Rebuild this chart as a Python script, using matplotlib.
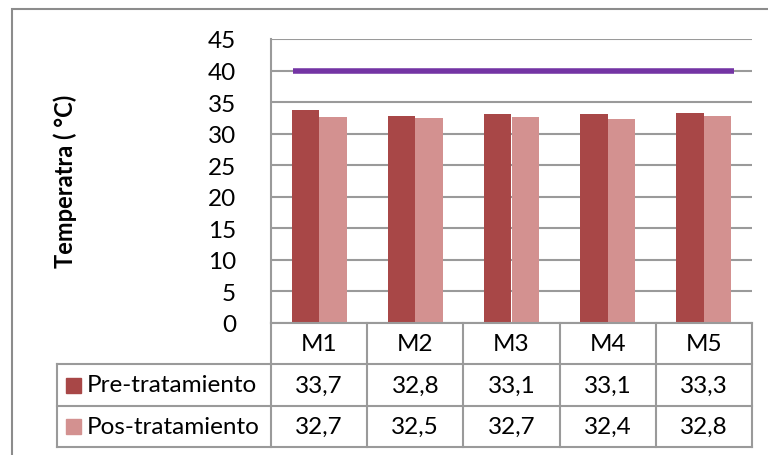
import numpy as np
import matplotlib.pyplot as plt
from matplotlib.patches import Rectangle

categories = ["M1", "M2", "M3", "M4", "M5"]
pre = [33.7, 32.8, 33.1, 33.1, 33.3]
pos = [32.7, 32.5, 32.7, 32.4, 32.8]
series_names = ["Pre-tratamiento", "Pos-tratamiento"]
limit = 40
yticks = [0, 5, 10, 15, 20, 25, 30, 35, 40, 45]

c_pre = "#A84747"
c_pos = "#D39190"
c_line = "#7434A4"
c_grid = "#9A9A9A"

plt.rcParams['font.family'] = ['Lato', 'DejaVu Sans']
fs = 17.5

W, H = 768, 456
fig = plt.figure(figsize=(W / 100, H / 100), dpi=100)

# outer chart border (runs past the image on right/bottom)
fig.patches.append(Rectangle((12 / W, -0.1), 2, 1 - 10 / H + 0.1, transform=fig.transFigure,
                             fill=False, edgecolor="#8C8C8C", lw=1.5))

ax_l, ax_r, ax_t, ax_b = 271 / W, 752 / W, 1 - 40 / H, 1 - 324 / H
ax = fig.add_axes([ax_l, ax_b, ax_r - ax_l, ax_t - ax_b])

x = np.arange(len(categories))
bw = 0.285
ax.bar(x - bw / 2, pre, bw, color=c_pre, zorder=3)
ax.bar(x + bw / 2, pos, bw, color=c_pos, zorder=3)
ax.hlines(limit, -0.27, 4.31, color=c_line, lw=4, zorder=4)

ax.set_xlim(-0.5, 4.5)
ax.set_ylim(0, 45)
ax.set_yticks(yticks)
ax.set_yticklabels([str(v) for v in yticks], fontsize=fs)
ax.tick_params(axis="y", length=0, pad=25)
ax.set_xticks([])
ax.grid(axis="y", color=c_grid, lw=1.5, zorder=0)
for s in ["top", "right", "bottom"]:
    ax.spines[s].set_visible(False)
ax.spines["left"].set_color(c_grid)
ax.spines["left"].set_linewidth(1.5)

fig.text(65 / W, 1 - 181 / H, "Temperatra ( °C)", rotation=90, fontsize=17,
         fontweight="bold", ha="center", va="center")

# data table under the plot
tb_l, tb_b = 57 / W, 1 - 448 / H
tax = fig.add_axes([tb_l, tb_b, ax_r - tb_l, ax_b - tb_b])
col_w = (ax_r - ax_l) / len(categories)
left_ext = -0.5 - (ax_l - tb_l) / col_w
tax.set_xlim(left_ext, 4.5)
tax.set_ylim(0, 3)
tax.axis("off")
px_x = (4.5 - left_ext) / ((ax_r - tb_l) * W)
px_y = 3 / ((ax_b - tb_b) * H)

lk = dict(color=c_grid, lw=1.5, clip_on=False)
tax.plot([-0.5, 4.5], [3, 3], **lk)
for yy in [0, 1, 2]:
    tax.plot([left_ext, 4.5], [yy, yy], **lk)
tax.plot([left_ext, left_ext], [0, 2], **lk)
for xx in np.arange(len(categories) + 1) - 0.5:
    tax.plot([xx, xx], [0, 3], **lk)

for i, c in enumerate(categories):
    tax.text(i, 2.5, c, ha="center", va="center", fontsize=fs)
    tax.text(i, 1.5, f"{pre[i]:.1f}".replace(".", ","), ha="center", va="center", fontsize=fs)
    tax.text(i, 0.5, f"{pos[i]:.1f}".replace(".", ","), ha="center", va="center", fontsize=fs)

for row, name, col in [(1.5, series_names[0], c_pre), (0.5, series_names[1], c_pos)]:
    tax.add_patch(Rectangle((left_ext + 9 * px_x, row - 7.5 * px_y), 15 * px_x, 15 * px_y,
                            color=col, clip_on=False))
    tax.text(left_ext + 30 * px_x, row, name, ha="left", va="center", fontsize=fs)

fig.savefig("out.png", dpi=100)
